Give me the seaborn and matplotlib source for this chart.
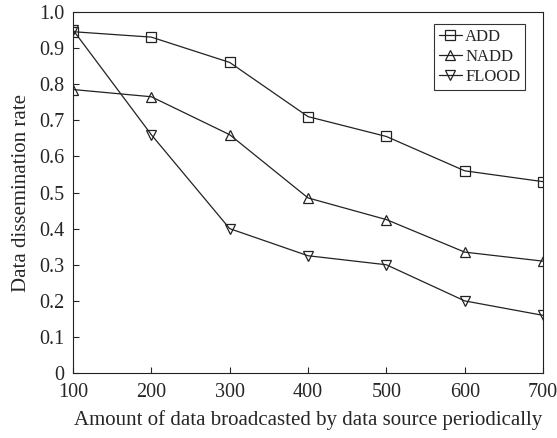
import matplotlib
matplotlib.use('Agg')
import matplotlib.pyplot as plt
import seaborn as sns
import pandas as pd

# data
x_vals = [100, 200, 300, 400, 500, 600, 700]
add = [0.945, 0.93, 0.86, 0.71, 0.655, 0.56, 0.53]
nadd = [0.785, 0.765, 0.66, 0.485, 0.425, 0.335, 0.31]
flood = [0.95, 0.66, 0.40, 0.325, 0.30, 0.20, 0.16]
series_names = ['ADD', 'NADD', 'FLOOD']

df = pd.DataFrame({'x': x_vals * 3,
                   'rate': add + nadd + flood,
                   'method': sum([[n] * len(x_vals) for n in series_names], [])})

sns.set_style('ticks')
plt.rcParams['font.family'] = ['Liberation Serif', 'DejaVu Serif']

fig = plt.figure(figsize=(5.57, 4.38), dpi=100)
ax = fig.add_axes([0.131, 0.148, 0.844, 0.825])

sns.lineplot(data=df, x='x', y='rate', hue='method', style='method',
             palette=['#222222'] * 3, markers=['s', '^', 'v'], dashes=False,
             markersize=7, markerfacecolor='none', markeredgecolor='#222222',
             markeredgewidth=0.9, linewidth=0.9, ax=ax)

ax.set_xlim(100, 700)
ax.set_ylim(0, 1.0)
ax.set_xticks(x_vals)
yt = [i / 10 for i in range(11)]
ax.set_yticks(yt)
ax.set_yticklabels(['0'] + [f'{v:.1f}' for v in yt[1:]])
ax.tick_params(direction='in', labelsize=14.5, length=4, width=0.8)
ax.tick_params(axis='x', pad=7)
ax.tick_params(axis='y', pad=6)
for s in ax.spines.values():
    s.set_linewidth(0.8)
    s.set_color('#222222')
ax.set_xlabel('Amount of data broadcasted by data source periodically', fontsize=15, labelpad=6)
ax.set_ylabel('Data dissemination rate', fontsize=15, labelpad=6)

leg = ax.legend(loc='upper right', fontsize=12, frameon=True, fancybox=False,
                edgecolor='black', handlelength=1.4, handletextpad=0.2,
                borderpad=0.3, labelspacing=0.25, bbox_to_anchor=(0.98, 0.99))
leg.get_frame().set_linewidth(0.8)

fig.savefig('out.png', dpi=100)
